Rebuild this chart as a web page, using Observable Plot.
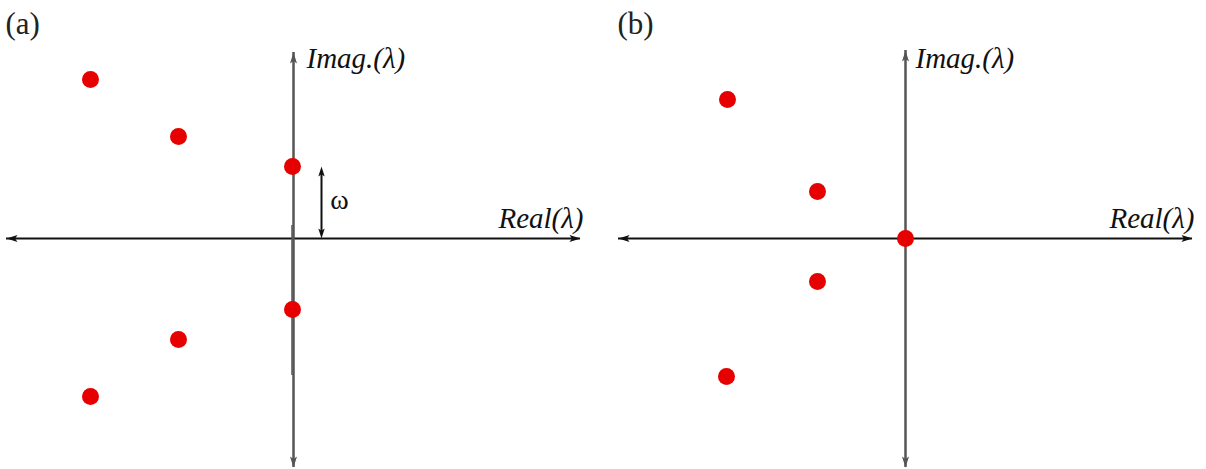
<!DOCTYPE html>
<html><head><meta charset="utf-8">
<script src="https://cdn.jsdelivr.net/npm/d3@7"></script>
<script src="https://cdn.jsdelivr.net/npm/@observablehq/plot@0.6"></script>
<style>
body{margin:0;background:#fff}
#wrap{display:flex;width:1206px}
svg{overflow:visible;display:block}
</style>
</head><body><div id="wrap"></div><script>
// Panel (a): eigenvalues λ = Real + i·Imag (complex-conjugate pairs)
const realA = [-4.06, -2.3, -0.02, -0.02, -2.3, -4.06];
const imagA = [3.18, 2.04, 1.44, -1.42, -2.02, -3.16];
// Panel (b): eigenvalues, one at the origin
const realB = [-3.56, -1.76, 0, -1.76, -3.58];
const imagB = [2.78, 0.94, 0, -0.86, -2.76];
// Imaginary part marked by the ω arrow in panel (a)
const omega = 1.44;
const panelLabels = ["(a)", "(b)"];
const axisLabels = ["Imag.(λ)", "Real(λ)"];

const RED = "#e60000";
const AXIS_V = "#555";
const AXIS_H = "#111";

// Filled, notched arrowhead pointing up with its tip at the anchor
const head = {
  draw(ctx, size) {
    const r = Math.sqrt(size / Math.PI);
    ctx.moveTo(0, 0);
    ctx.lineTo(0.32 * r, r);
    ctx.lineTo(0, 0.78 * r);
    ctx.lineTo(-0.32 * r, r);
    ctx.closePath();
  }
};

function axisMarks(ext) {
  const {left, right, top, bottom} = ext;
  return [
    Plot.ruleY([0], {x1: left, x2: right, stroke: AXIS_H, strokeWidth: 2}),
    Plot.ruleX([0], {y1: bottom, y2: top, stroke: AXIS_V, strokeWidth: 2.5}),
    Plot.dot([{x: right, y: 0, a: 90}, {x: left, y: 0, a: 270}],
      {x: "x", y: "y", rotate: "a", symbol: head, r: 11, fill: AXIS_H, stroke: "none"}),
    Plot.dot([{x: 0, y: top, a: 0}, {x: 0, y: bottom, a: 180}],
      {x: "x", y: "y", rotate: "a", symbol: head, r: 11, fill: AXIS_V, stroke: "none"})
  ];
}

function panel({re, im, xDomain, label, ext, imagPos, realPos, extra = []}) {
  const pts = re.map((r, i) => ({re: r, im: im[i]}));
  return Plot.plot({
    width: 603, height: 469, margin: 0,
    x: {domain: xDomain, axis: null},
    y: {domain: [-4.62, 4.76], axis: null},
    style: {overflow: "visible", background: "transparent"},
    marks: [
      ...axisMarks(ext),
      ...extra,
      Plot.dot(pts, {x: "re", y: "im", r: 8.5, fill: RED, stroke: "none"}),
      Plot.text([label], {frameAnchor: "top-left", dx: label === "(a)" ? 5 : 14, dy: 24,
        textAnchor: "start", lineAnchor: "middle", fontFamily: "Liberation Serif", fontSize: 31, fill: "#222"}),
      Plot.text([axisLabels[0]], {x: imagPos[0], y: imagPos[1], textAnchor: "start",
        fontFamily: "Liberation Serif", fontStyle: "italic", fontSize: 29, fill: "#111"}),
      Plot.text([axisLabels[1]], {x: realPos[0], y: realPos[1], textAnchor: "end",
        fontFamily: "Liberation Serif", fontStyle: "italic", fontSize: 29, fill: "#111"})
    ]
  });
}

const ext = {left: -5.74, right: 5.74, top: 3.72, bottom: -4.58};

// ω: distance from the real axis to the upper eigenvalue on the imaginary axis
const omegaMarks = [
  Plot.ruleX([-0.03], {y1: 0.26, y2: -2.74, stroke: "#555", strokeWidth: 1.5}),
  Plot.ruleX([0.56], {y1: 0.1, y2: omega - 0.1, stroke: "#111", strokeWidth: 2}),
  Plot.dot([{x: 0.56, y: omega, a: 0}, {x: 0.56, y: 0, a: 180}],
    {x: "x", y: "y", rotate: "a", symbol: head, r: 10, fill: "#111", stroke: "none"}),
  Plot.text(["ω"], {x: 0.92, y: 0.76, fontFamily: "Liberation Serif", fontSize: 28, fill: "#111"})
];

const wrap = document.getElementById("wrap");
wrap.append(panel({
  re: realA, im: imagA, xDomain: [-5.86, 6.2], label: panelLabels[0], ext,
  imagPos: [0.26, 3.6], realPos: [5.8, 0.4], extra: omegaMarks
}));
wrap.append(panel({
  re: realB, im: imagB, xDomain: [-6.04, 6.02], label: panelLabels[1],
  ext: {left: -5.74, right: 5.74, top: 3.76, bottom: -4.58},
  imagPos: [0.2, 3.6], realPos: [5.78, 0.4]
}));
</script></body></html>
